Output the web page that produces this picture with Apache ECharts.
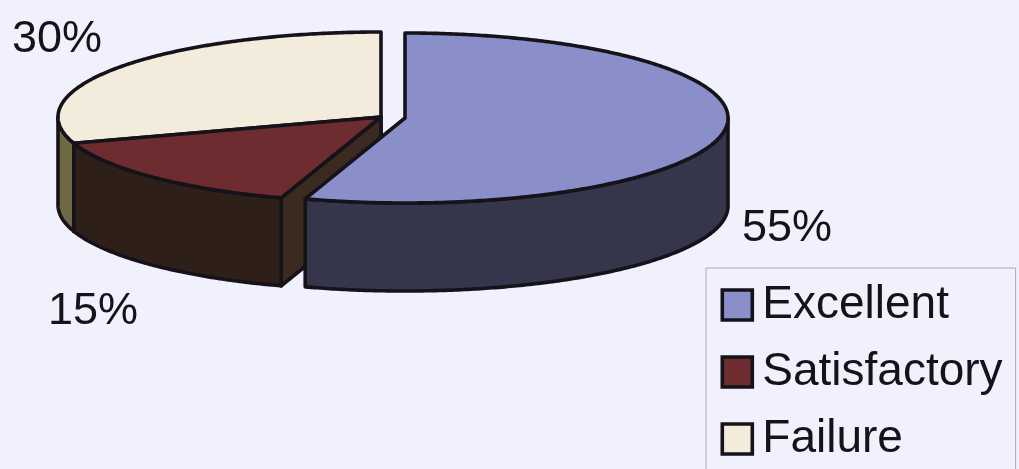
<!DOCTYPE html>
<html>
<head>
<meta charset="utf-8">
<style>html,body{margin:0;padding:0;background:#f1f1fd;overflow:hidden;height:469px}#c{width:1019px;height:500px}</style>
<script src="https://cdn.jsdelivr.net/npm/echarts@6/dist/echarts.min.js"></script>
</head>
<body>
<div id="c"></div>
<script>
const categories = ['Excellent', 'Satisfactory', 'Failure'];
const values = [55, 15, 30];

const topColors = ['#8a8fca', '#6d2c30', '#f3ecdc'];
const wallColors = ['#35354c', '#2e2019', '#6f6845'];
const cutColor = '#3a2a20';
const inkColor = '#15121a';
const bgColor = '#f1f1fd';
const centers = [[405, 118], [381, 117], [381, 117]];
const labelAnchors = [[787, 229], [93, 312], [57, 40]];
const radiusX = 323, radiusY = 85, depth = 88, lineW = 3.6;

const total = values.reduce((a, b) => a + b, 0);
const starts = values.map((_, i) => values.slice(0, i).reduce((a, b) => a + b, 0));
const angle = v => echarts.number.linearMap(v, [0, total], [0, 2 * Math.PI]);
const pt = (c, t, dy) => [c[0] + radiusX * Math.sin(t), c[1] - radiusY * Math.cos(t) + (dy || 0)];
function arc(c, a, b, dy) {
  const n = Math.max(2, Math.ceil(Math.abs(b - a) / 0.01)), out = [];
  for (let i = 0; i <= n; i++) out.push(pt(c, a + (b - a) * i / n, dy));
  return out;
}
function poly(points, fill) {
  return {
    type: 'polygon', shape: { points },
    style: { fill, stroke: inkColor, lineWidth: lineW, lineJoin: 'round' }
  };
}
function makeRender(i) {
  return function (params, api) {
    const v = api.value(0), c = centers[i];
    const a = angle(starts[i]), b = angle(starts[i] + v);
    const children = [];
    // inner cut wall, visible only when the slice's trailing edge faces the viewer
    if (b > Math.PI && a < Math.PI * 1.5 && a > Math.PI) {
      const p = pt(c, a);
      children.push(poly([c, p, [p[0], p[1] + depth], [c[0], c[1] + depth]], cutColor));
    }
    // outer wall: front half of the rim only
    const w1 = Math.max(a, Math.PI / 2), w2 = Math.min(b, Math.PI * 1.5);
    if (w2 > w1) {
      children.push(poly(arc(c, w1, w2, 0).concat(arc(c, w2, w1, depth)), wallColors[i]));
    }
    children.push(poly([c].concat(arc(c, a, b, 0)), topColors[i]));
    children.push({
      type: 'text', x: labelAnchors[i][0], y: labelAnchors[i][1],
      style: {
        text: v + '%', fill: inkColor, align: 'center', verticalAlign: 'middle',
        fontFamily: '"Liberation Sans", Arial, sans-serif', fontSize: 45
      }
    });
    return { type: 'group', children };
  };
}
// paint back to front: Failure, Satisfactory, Excellent
const order = [2, 1, 0];
const chart = echarts.init(document.getElementById('c'), null, { renderer: 'canvas' });
chart.setOption({
  animation: false,
  backgroundColor: bgColor,
  tooltip: { show: false },
  legend: {
    left: 706, top: 268, orient: 'vertical', selectedMode: false,
    padding: [14, 13, 14, 14.5],
    itemGap: 21, itemWidth: 30, itemHeight: 30, icon: 'rect',
    backgroundColor: bgColor, borderColor: '#a9a9b2', borderWidth: 1,
    itemStyle: { borderColor: inkColor, borderWidth: 3.6 },
    textStyle: { fontFamily: '"Liberation Sans", Arial, sans-serif', fontSize: 46, lineHeight: 46, color: inkColor, padding: [0, 0, 0, 5] },
    data: categories
  },
  series: order.map(i => ({
    type: 'custom',
    name: categories[i],
    coordinateSystem: 'none',
    silent: true,
    itemStyle: { color: topColors[i] },
    data: [[values[i]]],
    renderItem: makeRender(i)
  }))
});
</script>
</body>
</html>
